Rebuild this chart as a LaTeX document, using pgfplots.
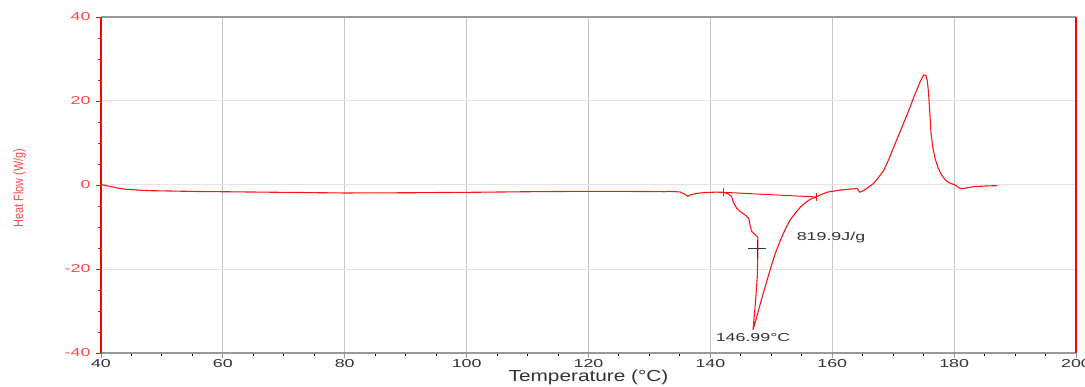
\documentclass[border=0pt]{standalone}
\usepackage{pgfplots}
\pgfplotsset{compat=1.18}
\usepackage{fontspec}
\setmainfont{Liberation Sans}
\newfontfamily\tickfont[FakeStretch=1.55]{Liberation Sans}
\newfontfamily\labfont[FakeStretch=1.3]{Liberation Sans}
\newfontfamily\narrowfont[FakeStretch=0.8]{Liberation Sans}
\definecolor{dscred}{RGB}{255,20,20}
\definecolor{labred}{RGB}{255,70,70}
\definecolor{annot}{RGB}{50,50,50}
\begin{document}
\begin{tikzpicture}
\useasboundingbox (-101pt,-33pt) rectangle (984pt,353pt);
\begin{axis}[
  at={(0,0)}, anchor=south west,
  scale only axis, width=975pt, height=336pt,
  xmin=40, xmax=200, ymin=-40, ymax=40,
  xtick={40,60,...,200}, ytick={-40,-20,...,40},
  minor x tick num=3, minor y tick num=3,
  xtick pos=bottom, ytick pos=left,
  tick align=outside,
  major tick length=5pt, minor tick length=3pt,
  separate axis lines,
  x axis line style={gray!80, line width=1.2pt},
  y axis line style={red, line width=1.2pt},
  major x tick style={gray!80, line width=0.8pt},
  minor x tick style={black, line width=1pt},
  y tick style={red, line width=0.6pt},
  xmajorgrids, ymajorgrids,
  major x grid style={gray!45, line width=1pt},
  major y grid style={gray!22, line width=1pt},
  xticklabel style={font=\fontsize{11.5}{13}\tickfont, text=annot, yshift=2.5pt},
  yticklabel style={font=\fontsize{11.5}{13}\tickfont, text=labred, xshift=-2pt},
  xlabel={\labfont Temperature (°C)},
  xlabel style={font=\fontsize{16}{18}\selectfont, text=annot, yshift=4.5pt},
  ylabel={\narrowfont Heat Flow (W/g)},
  ylabel style={font=\fontsize{13.5}{15}\selectfont, text=labred, yshift=32pt, xshift=-3pt},
  /pgf/number format/assume math mode=true,
  clip=false,
]
\addplot[dscred, line width=1.1pt] coordinates {
(40,0.1) (41,-0.2) (42,-0.5) (43,-0.8) (44,-1.0) (46,-1.2) (48,-1.35) (52,-1.45) (56,-1.55) (60,-1.6)
(70,-1.75) (80,-1.9) (90,-1.85) (100,-1.75) (110,-1.6) (120,-1.5) (130,-1.55) (132.5,-1.6) (133,-1.5)
(135,-1.65) (135.8,-2.2) (136.3,-2.7) (136.8,-2.3) (137.8,-2.0) (139,-1.8) (141,-1.7) (142.2,-1.75)
(143,-2.2) (143.5,-2.8) (143.8,-4.2) (144.3,-5.5) (144.9,-6.3) (145.6,-7.0) (146.3,-7.9) (146.5,-9.5)
(146.8,-11.1) (147.5,-12.0) (147.8,-12.5) (147.8,-15.5) (147.7,-21.8) (147.4,-28) (147.0,-34.5)
(147.6,-31.5) (148.2,-28.2) (149.0,-24.2) (149.8,-20.2) (150.6,-16.5) (151.5,-13.1) (152.3,-10.5)
(153.1,-8.3) (154.0,-6.6) (154.8,-5.2) (155.6,-4.2) (156.4,-3.4) (157.4,-2.8) (158.3,-2.2) (159.2,-1.7)
(161.3,-1.2) (163.5,-0.9) (164.1,-0.8) (164.5,-1.7) (164.9,-1.5) (165.7,-0.8) (166.8,0.4) (167.6,1.8)
(168.5,3.6) (169.3,6.2) (170.1,9.1) (170.9,11.9) (171.7,14.7) (172.6,17.9) (173.4,21.0) (174.0,23.1)
(174.5,24.8) (175.0,26.2) (175.4,26.0) (175.6,24.8) (175.8,22.0) (176.0,17.5) (176.2,12.5) (176.5,9.0)
(176.9,6.2) (177.4,4.0) (177.9,2.5) (178.5,1.3) (179.2,0.5) (180.2,0) (180.7,-0.6) (181.2,-0.9)
(182.0,-0.7) (183.2,-0.4) (185,-0.25) (187.1,-0.15)
};
\addplot[dscred, line width=1pt, mark=|, mark size=4pt, mark options={solid, line width=1pt}] coordinates {
(142.2,-1.75) (157.4,-2.85)
};
\addplot[annot, only marks, mark=+, mark size=9pt, mark options={line width=0.9pt}] coordinates {(147.7,-15.2)};
\node[anchor=west, text=annot, font=\fontsize{11.5}{13}\tickfont] at (axis cs:153.6,-12.4) {819.9J/g};
\node[text=annot, font=\fontsize{11.5}{13}\tickfont] at (axis cs:147.0,-36.3) {146.99°C};
\end{axis}
\end{tikzpicture}
\end{document}
